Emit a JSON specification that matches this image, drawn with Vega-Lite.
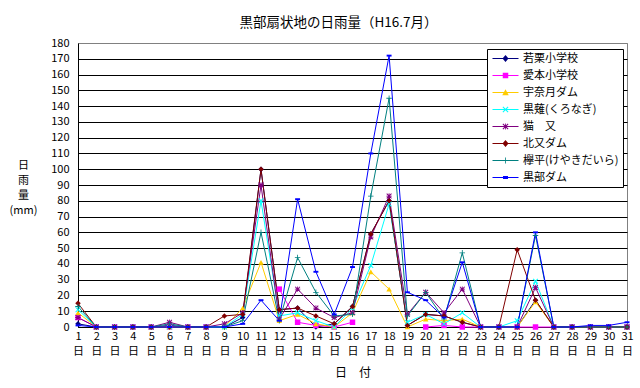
{
"$schema": "https://vega.github.io/schema/vega-lite/v6.json",
"width": 549, "height": 284,
"autosize": {"type": "none"},
"padding": {"left": 78, "top": 43, "right": 13, "bottom": 61},
"background": "white",
"config": {"view": {"stroke": "#808080", "strokeWidth": 1}, "font": "Noto Sans CJK JP"},
"title": {"text": "黒部扇状地の日雨量（H16.7月）", "fontSize": 13.5, "fontWeight": "normal", "color": "black", "dx": -14, "offset": 8, "font": "Noto Sans CJK JP"},
"data": {"values": [
{"d":1,"s":"若栗小学校","v":2},{"d":2,"s":"若栗小学校","v":0},{"d":3,"s":"若栗小学校","v":0},{"d":4,"s":"若栗小学校","v":0},{"d":5,"s":"若栗小学校","v":0},{"d":6,"s":"若栗小学校","v":1},{"d":7,"s":"若栗小学校","v":0},{"d":8,"s":"若栗小学校","v":0},{"d":9,"s":"若栗小学校","v":0},{"d":10,"s":"若栗小学校","v":6},{"d":11,"s":"若栗小学校","v":100},{"d":12,"s":"若栗小学校","v":11},{"d":13,"s":"若栗小学校","v":12},{"d":14,"s":"若栗小学校","v":0},{"d":15,"s":"若栗小学校","v":2},{"d":16,"s":"若栗小学校","v":13},{"d":17,"s":"若栗小学校","v":59},{"d":18,"s":"若栗小学校","v":80},{"d":19,"s":"若栗小学校","v":1},{"d":20,"s":"若栗小学校","v":8},{"d":21,"s":"若栗小学校","v":7},{"d":22,"s":"若栗小学校","v":3},{"d":23,"s":"若栗小学校","v":0},{"d":24,"s":"若栗小学校","v":0},{"d":25,"s":"若栗小学校","v":0},{"d":26,"s":"若栗小学校","v":17},{"d":27,"s":"若栗小学校","v":0},{"d":28,"s":"若栗小学校","v":0},{"d":29,"s":"若栗小学校","v":0},{"d":30,"s":"若栗小学校","v":0},{"d":31,"s":"若栗小学校","v":0},
{"d":1,"s":"愛本小学校","v":6},{"d":2,"s":"愛本小学校","v":0},{"d":3,"s":"愛本小学校","v":0},{"d":4,"s":"愛本小学校","v":0},{"d":5,"s":"愛本小学校","v":0},{"d":6,"s":"愛本小学校","v":0},{"d":7,"s":"愛本小学校","v":0},{"d":8,"s":"愛本小学校","v":0},{"d":9,"s":"愛本小学校","v":null},{"d":10,"s":"愛本小学校","v":null},{"d":11,"s":"愛本小学校","v":null},{"d":12,"s":"愛本小学校","v":24},{"d":13,"s":"愛本小学校","v":3},{"d":14,"s":"愛本小学校","v":1},{"d":15,"s":"愛本小学校","v":0},{"d":16,"s":"愛本小学校","v":3},{"d":17,"s":"愛本小学校","v":null},{"d":18,"s":"愛本小学校","v":null},{"d":19,"s":"愛本小学校","v":null},{"d":20,"s":"愛本小学校","v":0},{"d":21,"s":"愛本小学校","v":1},{"d":22,"s":"愛本小学校","v":0},{"d":23,"s":"愛本小学校","v":0},{"d":24,"s":"愛本小学校","v":0},{"d":25,"s":"愛本小学校","v":0},{"d":26,"s":"愛本小学校","v":0},{"d":27,"s":"愛本小学校","v":0},{"d":28,"s":"愛本小学校","v":0},{"d":29,"s":"愛本小学校","v":0},{"d":30,"s":"愛本小学校","v":0},{"d":31,"s":"愛本小学校","v":0},
{"d":1,"s":"宇奈月ダム","v":9},{"d":2,"s":"宇奈月ダム","v":0},{"d":3,"s":"宇奈月ダム","v":0},{"d":4,"s":"宇奈月ダム","v":0},{"d":5,"s":"宇奈月ダム","v":0},{"d":6,"s":"宇奈月ダム","v":0},{"d":7,"s":"宇奈月ダム","v":0},{"d":8,"s":"宇奈月ダム","v":0},{"d":9,"s":"宇奈月ダム","v":0},{"d":10,"s":"宇奈月ダム","v":12},{"d":11,"s":"宇奈月ダム","v":41},{"d":12,"s":"宇奈月ダム","v":4},{"d":13,"s":"宇奈月ダム","v":8},{"d":14,"s":"宇奈月ダム","v":2},{"d":15,"s":"宇奈月ダム","v":0},{"d":16,"s":"宇奈月ダム","v":9},{"d":17,"s":"宇奈月ダム","v":35},{"d":18,"s":"宇奈月ダム","v":24},{"d":19,"s":"宇奈月ダム","v":0},{"d":20,"s":"宇奈月ダム","v":5},{"d":21,"s":"宇奈月ダム","v":4},{"d":22,"s":"宇奈月ダム","v":5},{"d":23,"s":"宇奈月ダム","v":0},{"d":24,"s":"宇奈月ダム","v":0},{"d":25,"s":"宇奈月ダム","v":0},{"d":26,"s":"宇奈月ダム","v":16},{"d":27,"s":"宇奈月ダム","v":0},{"d":28,"s":"宇奈月ダム","v":0},{"d":29,"s":"宇奈月ダム","v":0},{"d":30,"s":"宇奈月ダム","v":0},{"d":31,"s":"宇奈月ダム","v":0},
{"d":1,"s":"黒薙(くろなぎ)","v":11},{"d":2,"s":"黒薙(くろなぎ)","v":0},{"d":3,"s":"黒薙(くろなぎ)","v":0},{"d":4,"s":"黒薙(くろなぎ)","v":0},{"d":5,"s":"黒薙(くろなぎ)","v":0},{"d":6,"s":"黒薙(くろなぎ)","v":0},{"d":7,"s":"黒薙(くろなぎ)","v":0},{"d":8,"s":"黒薙(くろなぎ)","v":0},{"d":9,"s":"黒薙(くろなぎ)","v":0},{"d":10,"s":"黒薙(くろなぎ)","v":8},{"d":11,"s":"黒薙(くろなぎ)","v":80},{"d":12,"s":"黒薙(くろなぎ)","v":7},{"d":13,"s":"黒薙(くろなぎ)","v":9},{"d":14,"s":"黒薙(くろなぎ)","v":4},{"d":15,"s":"黒薙(くろなぎ)","v":0},{"d":16,"s":"黒薙(くろなぎ)","v":12},{"d":17,"s":"黒薙(くろなぎ)","v":39},{"d":18,"s":"黒薙(くろなぎ)","v":78},{"d":19,"s":"黒薙(くろなぎ)","v":3},{"d":20,"s":"黒薙(くろなぎ)","v":8},{"d":21,"s":"黒薙(くろなぎ)","v":2},{"d":22,"s":"黒薙(くろなぎ)","v":9},{"d":23,"s":"黒薙(くろなぎ)","v":0},{"d":24,"s":"黒薙(くろなぎ)","v":0},{"d":25,"s":"黒薙(くろなぎ)","v":4},{"d":26,"s":"黒薙(くろなぎ)","v":29},{"d":27,"s":"黒薙(くろなぎ)","v":0},{"d":28,"s":"黒薙(くろなぎ)","v":0},{"d":29,"s":"黒薙(くろなぎ)","v":0},{"d":30,"s":"黒薙(くろなぎ)","v":0},{"d":31,"s":"黒薙(くろなぎ)","v":0},
{"d":1,"s":"猫　又","v":6},{"d":2,"s":"猫　又","v":0},{"d":3,"s":"猫　又","v":0},{"d":4,"s":"猫　又","v":0},{"d":5,"s":"猫　又","v":0},{"d":6,"s":"猫　又","v":3},{"d":7,"s":"猫　又","v":0},{"d":8,"s":"猫　又","v":0},{"d":9,"s":"猫　又","v":2},{"d":10,"s":"猫　又","v":9},{"d":11,"s":"猫　又","v":90},{"d":12,"s":"猫　又","v":5},{"d":13,"s":"猫　又","v":24},{"d":14,"s":"猫　又","v":12},{"d":15,"s":"猫　又","v":6},{"d":16,"s":"猫　又","v":9},{"d":17,"s":"猫　又","v":57},{"d":18,"s":"猫　又","v":83},{"d":19,"s":"猫　又","v":8},{"d":20,"s":"猫　又","v":22},{"d":21,"s":"猫　又","v":9},{"d":22,"s":"猫　又","v":24},{"d":23,"s":"猫　又","v":0},{"d":24,"s":"猫　又","v":0},{"d":25,"s":"猫　又","v":0},{"d":26,"s":"猫　又","v":25},{"d":27,"s":"猫　又","v":0},{"d":28,"s":"猫　又","v":0},{"d":29,"s":"猫　又","v":0},{"d":30,"s":"猫　又","v":0},{"d":31,"s":"猫　又","v":0},
{"d":1,"s":"北又ダム","v":15},{"d":2,"s":"北又ダム","v":0},{"d":3,"s":"北又ダム","v":0},{"d":4,"s":"北又ダム","v":0},{"d":5,"s":"北又ダム","v":0},{"d":6,"s":"北又ダム","v":0},{"d":7,"s":"北又ダム","v":0},{"d":8,"s":"北又ダム","v":0},{"d":9,"s":"北又ダム","v":7},{"d":10,"s":"北又ダム","v":8},{"d":11,"s":"北又ダム","v":100},{"d":12,"s":"北又ダム","v":11},{"d":13,"s":"北又ダム","v":12},{"d":14,"s":"北又ダム","v":7},{"d":15,"s":"北又ダム","v":2},{"d":16,"s":"北又ダム","v":13},{"d":17,"s":"北又ダム","v":59},{"d":18,"s":"北又ダム","v":80},{"d":19,"s":"北又ダム","v":1},{"d":20,"s":"北又ダム","v":8},{"d":21,"s":"北又ダム","v":7},{"d":22,"s":"北又ダム","v":3},{"d":23,"s":"北又ダム","v":0},{"d":24,"s":"北又ダム","v":0},{"d":25,"s":"北又ダム","v":49},{"d":26,"s":"北又ダム","v":17},{"d":27,"s":"北又ダム","v":0},{"d":28,"s":"北又ダム","v":0},{"d":29,"s":"北又ダム","v":0},{"d":30,"s":"北又ダム","v":0},{"d":31,"s":"北又ダム","v":0},
{"d":1,"s":"欅平(けやきだいら)","v":13},{"d":2,"s":"欅平(けやきだいら)","v":0},{"d":3,"s":"欅平(けやきだいら)","v":0},{"d":4,"s":"欅平(けやきだいら)","v":0},{"d":5,"s":"欅平(けやきだいら)","v":0},{"d":6,"s":"欅平(けやきだいら)","v":2},{"d":7,"s":"欅平(けやきだいら)","v":0},{"d":8,"s":"欅平(けやきだいら)","v":0},{"d":9,"s":"欅平(けやきだいら)","v":0},{"d":10,"s":"欅平(けやきだいら)","v":4},{"d":11,"s":"欅平(けやきだいら)","v":60},{"d":12,"s":"欅平(けやきだいら)","v":4},{"d":13,"s":"欅平(けやきだいら)","v":44},{"d":14,"s":"欅平(けやきだいら)","v":22},{"d":15,"s":"欅平(けやきだいら)","v":7},{"d":16,"s":"欅平(けやきだいら)","v":8},{"d":17,"s":"欅平(けやきだいら)","v":83},{"d":18,"s":"欅平(けやきだいら)","v":145},{"d":19,"s":"欅平(けやきだいら)","v":7},{"d":20,"s":"欅平(けやきだいら)","v":22},{"d":21,"s":"欅平(けやきだいら)","v":5},{"d":22,"s":"欅平(けやきだいら)","v":47},{"d":23,"s":"欅平(けやきだいら)","v":0},{"d":24,"s":"欅平(けやきだいら)","v":0},{"d":25,"s":"欅平(けやきだいら)","v":0},{"d":26,"s":"欅平(けやきだいら)","v":58},{"d":27,"s":"欅平(けやきだいら)","v":0},{"d":28,"s":"欅平(けやきだいら)","v":0},{"d":29,"s":"欅平(けやきだいら)","v":0},{"d":30,"s":"欅平(けやきだいら)","v":0},{"d":31,"s":"欅平(けやきだいら)","v":0},
{"d":1,"s":"黒部ダム","v":1},{"d":2,"s":"黒部ダム","v":0},{"d":3,"s":"黒部ダム","v":0},{"d":4,"s":"黒部ダム","v":0},{"d":5,"s":"黒部ダム","v":0},{"d":6,"s":"黒部ダム","v":0},{"d":7,"s":"黒部ダム","v":0},{"d":8,"s":"黒部ダム","v":0},{"d":9,"s":"黒部ダム","v":0},{"d":10,"s":"黒部ダム","v":2},{"d":11,"s":"黒部ダム","v":17},{"d":12,"s":"黒部ダム","v":4},{"d":13,"s":"黒部ダム","v":81},{"d":14,"s":"黒部ダム","v":35},{"d":15,"s":"黒部ダム","v":8},{"d":16,"s":"黒部ダム","v":38},{"d":17,"s":"黒部ダム","v":110},{"d":18,"s":"黒部ダム","v":172},{"d":19,"s":"黒部ダム","v":22},{"d":20,"s":"黒部ダム","v":17},{"d":21,"s":"黒部ダム","v":6},{"d":22,"s":"黒部ダム","v":41},{"d":23,"s":"黒部ダム","v":0},{"d":24,"s":"黒部ダム","v":0},{"d":25,"s":"黒部ダム","v":0},{"d":26,"s":"黒部ダム","v":60},{"d":27,"s":"黒部ダム","v":0},{"d":28,"s":"黒部ダム","v":0},{"d":29,"s":"黒部ダム","v":1},{"d":30,"s":"黒部ダム","v":1},{"d":31,"s":"黒部ダム","v":3}
]},
"encoding": {
  "x": {"field": "d", "type": "quantitative", "scale": {"domain": [1, 31], "nice": false, "zero": false},
    "axis": {"values": [1,2,3,4,5,6,7,8,9,10,11,12,13,14,15,16,17,18,19,20,21,22,23,24,25,26,27,28,29,30,31],
      "title": "日　付", "labelExpr": "[datum.label, '日']", "labelFontSize": 11, "labelLineHeight": 15, "labelBaseline": "top",
      "labelPadding": 3, "labelAngle": 0, "labelFlush": false, "labelOverlap": false, "labelBound": false, "ticks": false, "grid": false,
      "domainColor": "black", "labelColor": "black", "labelFont": "Noto Sans CJK JP",
      "titleFontSize": 12, "titleFontWeight": "normal", "titleColor": "black", "titleFont": "Noto Sans CJK JP", "titleY": 40, "titleBaseline": "top"}},
  "y": {"field": "v", "type": "quantitative", "scale": {"domain": [0, 180], "nice": false},
    "axis": {"values": [0,10,20,30,40,50,60,70,80,90,100,110,120,130,140,150,160,170,180],
      "title": ["日", "雨", "量", "(mm)"], "titleAngle": 0, "titleX": -55, "titleY": 116, "titleAlign": "center", "titleBaseline": "top",
      "titleLineHeight": 15, "titleFontSize": 11, "titleFontWeight": "normal", "titleColor": "black", "titleFont": "Noto Sans CJK JP",
      "ticks": false, "labelPadding": 9, "labelFontSize": 11, "labelColor": "black", "labelFont": "Noto Sans CJK JP",
      "gridColor": {"condition": {"test": "datum.value === 180", "value": "#808080"}, "value": "black"}, "gridOpacity": 1, "gridWidth": 1,
      "domainColor": "black"}}
},
"layer": [
  {"mark": {"type": "line", "strokeWidth": 1, "invalid": "break-paths-show-domains"},
   "encoding": {"color": {"field": "s", "type": "nominal",
     "scale": {"domain": ["若栗小学校","愛本小学校","宇奈月ダム","黒薙(くろなぎ)","猫　又","北又ダム","欅平(けやきだいら)","黒部ダム"],
       "range": ["#000080","#FF00FF","#FFCC00","#00FFFF","#800080","#800000","#008080","#0000FF"]}, "legend": null}}},
  {"mark": {"type": "point", "filled": true, "size": 30, "opacity": 1},
   "encoding": {"color": {"field": "s", "type": "nominal",
     "scale": {"domain": ["若栗小学校","愛本小学校","宇奈月ダム","黒薙(くろなぎ)","猫　又","北又ダム","欅平(けやきだいら)","黒部ダム"],
       "range": ["#000080","#FF00FF","#FFCC00","#00FFFF","#800080","#800000","#008080","#0000FF"]}, "legend": null},
     "shape": {"field": "s", "type": "nominal",
       "scale": {"domain": ["若栗小学校","愛本小学校","宇奈月ダム","黒薙(くろなぎ)","猫　又","北又ダム","欅平(けやきだいら)","黒部ダム"],
         "range": ["diamond", "square", "triangle-up",
           "M-1,-0.75L-0.75,-1L0,-0.25L0.75,-1L1,-0.75L0.25,0L1,0.75L0.75,1L0,0.25L-0.75,1L-1,0.75L-0.25,0Z",
           "M-1,-0.75L-0.75,-1L0,-0.25L0.75,-1L1,-0.75L0.25,0L1,0.75L0.75,1L0,0.25L-0.75,1L-1,0.75L-0.25,0Z M-0.15,-1H0.15V-0.15H1V0.15H0.15V1H-0.15V0.15H-1V-0.15H-0.15Z",
           "diamond",
           "M-0.15,-1H0.15V-0.15H1V0.15H0.15V1H-0.15V0.15H-1V-0.15H-0.15Z",
           "M-0.9,-0.35H0.9V0.35H-0.9Z"]}, "legend": null}}},
  {"transform": [{"filter": "false"}],
   "mark": {"type": "point", "filled": true, "opacity": 1},
   "encoding": {"color": {"field": "s", "type": "nominal",
     "scale": {"domain": ["若栗小学校","愛本小学校","宇奈月ダム","黒薙(くろなぎ)","猫　又","北又ダム","欅平(けやきだいら)","黒部ダム"],
       "range": ["#000080","#FF00FF","#FFCC00","#00FFFF","#800080","#800000","#008080","#0000FF"]},
     "legend": {"title": null, "orient": "none", "legendX": 409, "legendY": 6, "fillColor": "white", "strokeColor": "black", "padding": 4,
       "symbolSize": 100, "symbolOffset": 9, "labelOffset": 12, "labelFontSize": 11, "labelFont": "Noto Sans CJK JP", "labelColor": "black",
       "rowPadding": 5, "symbolOpacity": 1, "symbolStrokeWidth": 0}},
     "shape": {"field": "s", "type": "nominal",
       "scale": {"domain": ["若栗小学校","愛本小学校","宇奈月ダム","黒薙(くろなぎ)","猫　又","北又ダム","欅平(けやきだいら)","黒部ダム"],
         "range": [
           "M-2.6,-0.1H2.6V0.1H-2.6Z M0,-0.7L0.6,0L0,0.7L-0.6,0Z",
           "M-2.6,-0.1H2.6V0.1H-2.6Z M-0.55,-0.55H0.55V0.55H-0.55Z",
           "M-2.6,-0.1H2.6V0.1H-2.6Z M0,-0.65L0.65,0.55H-0.65Z",
           "M-2.6,-0.1H2.6V0.1H-2.6Z M-0.6,-0.45L-0.45,-0.6L0,-0.15L0.45,-0.6L0.6,-0.45L0.15,0L0.6,0.45L0.45,0.6L0,0.15L-0.45,0.6L-0.6,0.45L-0.15,0Z",
           "M-2.6,-0.1H2.6V0.1H-2.6Z M-0.6,-0.45L-0.45,-0.6L0,-0.15L0.45,-0.6L0.6,-0.45L0.15,0L0.6,0.45L0.45,0.6L0,0.15L-0.45,0.6L-0.6,0.45L-0.15,0Z M-0.08,-0.6H0.08V0.6H-0.08Z",
           "M-2.6,-0.1H2.6V0.1H-2.6Z M0,-0.7L0.6,0L0,0.7L-0.6,0Z",
           "M-2.6,-0.1H2.6V0.1H-2.6Z M-0.08,-0.6H0.08V0.6H-0.08Z",
           "M-2.6,-0.1H2.6V0.1H-2.6Z M-0.5,-0.3H0.5V0.3H-0.5Z"]},
     "legend": {"title": null, "orient": "none", "legendX": 409, "legendY": 6, "fillColor": "white", "strokeColor": "black", "padding": 4,
       "symbolSize": 100, "symbolOffset": 9, "labelOffset": 12, "labelFontSize": 11, "labelFont": "Noto Sans CJK JP", "labelColor": "black",
       "rowPadding": 5, "symbolOpacity": 1, "symbolStrokeWidth": 0}}}}
],
"resolve": {"scale": {"color": "independent", "shape": "independent"}}
}
